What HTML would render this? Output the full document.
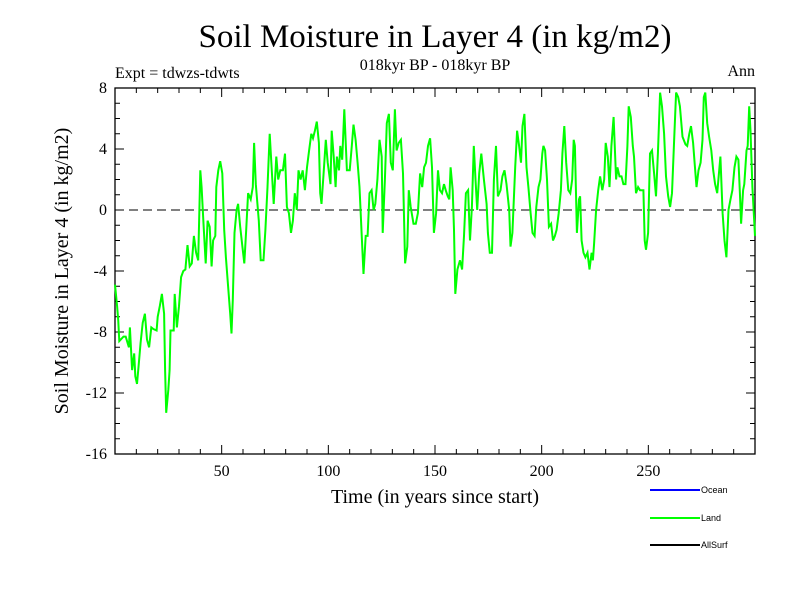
<!DOCTYPE html>
<html><head><meta charset="utf-8"><style>
body{margin:0;background:#fff;}
svg{display:block;font-family:"Liberation Serif",serif;}
</style></head><body>
<svg id="chart" width="800" height="600">
<text x="435" y="47" font-size="33" text-anchor="middle">Soil Moisture in Layer 4 (in kg/m2)</text>
<text x="435" y="70" font-size="16" text-anchor="middle">018kyr BP - 018kyr BP</text>
<text x="115" y="78" font-size="16">Expt = tdwzs-tdwts</text>
<text x="755" y="76" font-size="16" text-anchor="end">Ann</text>
<text transform="translate(68,271) rotate(-90)" font-size="20" text-anchor="middle">Soil Moisture in Layer 4 (in kg/m2)</text>
<text x="435" y="503" font-size="20" text-anchor="middle">Time (in years since start)</text>
<g id="axes"></g>
<g id="series"></g>
<g font-family="Liberation Sans, sans-serif" font-size="9">
<line x1="650" y1="490" x2="700" y2="490" stroke="#0000ff" stroke-width="2"/>
<text x="701" y="493">Ocean</text>
<line x1="650" y1="518" x2="700" y2="518" stroke="#00ff00" stroke-width="2"/>
<text x="701" y="521">Land</text>
<line x1="650" y1="545" x2="700" y2="545" stroke="#000" stroke-width="2"/>
<text x="701" y="548">AllSurf</text>
</g>
</svg>
<script>
const years=[0,1,1.5,2,4,5,6.5,7,8,9,9.5,10.3,11,12,13,14,15,16,17,18,19.5,20,21,22,23,23.5,24,25,25.6,26,27.5,28,29,30,31,32,33,34,35,36,37,38,39,40,40.6,41.5,42.5,43.4,44.4,45.3,46,47,47.5,48.4,49.3,50.3,51.2,52,53,54,54.6,55.2,56,57,57.7,58.7,59.7,60.6,61.5,62.4,63.6,64.6,65.2,66,67.4,68.3,69.6,70.5,71.5,72.5,73.4,74.4,75.6,76.5,77.5,78.7,79.7,80.6,81.5,82.5,83.4,84.3,85.2,86,87,88,89,90,91,92,92.8,93.7,94.6,95.6,96.2,96.8,97.8,98.8,99.7,
101,101.6,102.5,103.4,104,105,105.6,106.5,107.5,108.7,110,111,111.8,112.8,113.7,114.6,115.6,116.5,117.5,118.4,119.3,120.3,121.2,122,123,124,125,125.5,126.5,127.4,128.4,129.3,130.2,131.2,132,133,134,135,135.5,136,137,137.7,138.6,139.9,141,142,143,144,144.9,145.8,146.7,147.7,148.6,149.5,150.5,151.4,152.3,153.3,154.2,155,156,156.7,157.3,158.3,158.9,159.5,160.5,161.7,162.7,163.6,164.5,165.5,166.4,167.3,168.2,169,169.8,170.7,171.7,172.9,174.2,174.8,175.7,176.7,177.6,178.6,179.5,180.7,181.6,182.6,183.5,184.8,185.4,186.3,187.6,188.5,189.4,190.3,191,191.9,192.9,193.8,194.8,195.7,196.7,197.5,198.5,199.4,200.3,200.8,201.6,202.5,203.4,204.4,205.3,206.2,207,208,209,209.7,210.6,211.5,212.5,213.4,214.3,215,215.6,216.5,217.5,218,218.7,219.6,220.5,221.5,222.4,223.4,224,224.6,225.5,226.5,227.4,228.4,229.3,230,231,231.8,232.7,233.7,234.9,235.5,236.5,237.4,238.3,239.3,240.2,240.8,241.8,242.7,243.3,244.2,245.2,246.1,247,247.7,248.3,248.9,249.9,250.8,251.7,252.7,253.6,254.5,255.5,256.4,257.4,258.3,259.3,260.2,261.1,262,263,264,264.8,266,267.4,268.2,269.2,270,271,271.7,272.6,273.5,274.5,275.4,276,276.7,277.6,278.5,279.5,280.4,281.3,282.3,283.2,283.8,284.8,285.7,286.6,287.6,288.5,289.4,290.4,291.3,292.2,292.9,293.5,294.4,295,296,296.6,297.3,297.9,298.8,300];
const landValues=[-4.9,-6.3,-7.2,-8.6,-8.3,-8.3,-9,-7.7,-10.5,-9.4,-10.9,-11.4,-10.3,-8.7,-7.4,-6.8,-8.5,-9,-7.7,-7.8,-7.9,-7,-6.3,-5.5,-6.8,-10.5,-13.3,-11.8,-10.5,-7.9,-7.9,-5.5,-7.7,-6.3,-4.4,-4,-3.9,-2.3,-3.7,-3.5,-1.7,-2.8,-3.3,2.6,1.5,-0.9,-3.5,-0.7,-1.1,-3.7,-2,-1.7,1.5,2.6,3.2,2.4,-1.3,-3.1,-5,-6.8,-8.1,-5.9,-1.5,0,0.4,-1.1,-2.4,-3.5,-1.3,1.1,0.7,1.5,4.4,1.7,-0.7,-3.3,-3.3,-1.3,1.5,5,2.8,0.4,3.5,2,2.6,2.6,3.7,0.2,-0.2,-1.5,-0.7,1.1,0,2.6,2,2.6,1.3,2.8,3.9,5,4.7,5.2,5.8,4.4,1.1,0.4,2.4,4.6,3.1,1.7,
5.2,3.5,1.5,3.5,2.6,4.2,3.3,6.6,2.6,2.6,4.2,5.6,4.6,3.1,1.5,-1.5,-4.2,-1.7,-1.7,1.1,1.3,0,0.4,2,4.6,3.5,-1.5,2,5.7,6.3,3.1,2.6,6.6,3.9,4.4,4.6,2.4,-0.7,-3.5,-2.4,1.3,0.2,-0.9,-0.9,-0.2,2.4,1.5,2.8,3.1,4.2,4.7,2.8,-1.5,-0.2,2.6,1.3,1.1,1.7,1.3,0.9,0.7,2.8,1.3,-1.3,-5.5,-3.9,-3.3,-3.9,-1.7,1.1,1.3,-2,0.2,4.2,2,0,2.4,3.7,2,0.4,-1.5,-2.8,-2.8,2,4.2,0.9,1.3,2.2,2.6,1.7,0,-2.4,-1.5,2.8,5.2,4.2,3.1,5.5,6.3,2.8,1.5,-0.2,-1.5,-1.7,0.2,1.5,2,3.7,4.2,3.9,2,-1.1,-0.9,-2,-1.7,-1.3,-0.2,1.3,3.7,5.5,3.1,1.3,1.1,2,4.6,4.2,-1.5,0.7,0.9,-2,-2.8,-3.1,-2.8,-3.9,-2.8,-3.3,-2.2,0,1.3,2.2,1.3,2,4.4,3.5,1.5,4.2,6.1,2,2.8,2.2,2.2,1.7,1.7,4.2,6.8,6.1,4.2,3.5,1.1,1.5,1.3,1.3,1.3,-2,-2.6,-1.5,3.7,3.9,2.4,0.9,3.7,7.7,6.8,5,2.2,0.9,0.2,1.1,4.2,7.7,7.4,6.8,4.8,4.3,4.2,5,5.5,4.4,3.1,1.5,2.6,3.1,4.6,7.4,7.7,5.7,4.8,3.9,2.6,1.7,1.1,2.6,3.5,-0.2,-2,-3.1,0,0.7,1.3,2.8,3.5,3.3,1.1,-0.9,1.3,1.7,3.9,4.2,6.8,5.2,1.5,-1.7,-1.5];
const xTicks=[50,100,150,200,250];
const yTicks=[8,4,0,-4,-8,-12,-16];
const X0=115,X1=755,Y0=88,Y1=454;
function xs(v){return X0+(v-0)/(300-0)*(X1-X0);}
function ys(v){return Y1-(v-(-16))/(8-(-16))*(Y1-Y0);}
const NS="http://www.w3.org/2000/svg";
function mk(t,a,p){const e=document.createElementNS(NS,t);for(const k in a)e.setAttribute(k,a[k]);p.appendChild(e);return e;}
const ax=document.getElementById('axes');
const fr=mk('rect',{x:X0,y:Y0,width:X1-X0,height:Y1-Y0,fill:'none',stroke:'#000','stroke-width':1.3},ax);


const zl=mk('line',{x1:X0,x2:X1,y1:ys(0),y2:ys(0),stroke:'#000','stroke-dasharray':'9,5','stroke-width':1},ax);


for(let v=10;v<300;v+=10){const maj=v%50===0,L=maj?9:5,x=xs(v);
mk('line',{x1:x,x2:x,y1:Y1,y2:Y1-L,stroke:'#000'},ax);mk('line',{x1:x,x2:x,y1:Y0,y2:Y0+L,stroke:'#000'},ax);}
for(let v=-15;v<8;v++){const maj=v%4===0,L=maj?9:5,y=ys(v);
mk('line',{x1:X0,x2:X0+L,y1:y,y2:y,stroke:'#000'},ax);mk('line',{x1:X1,x2:X1-L,y1:y,y2:y,stroke:'#000'},ax);}
xTicks.forEach(v=>{const t=mk('text',{x:xs(v),y:Y1+22,'font-size':16,'text-anchor':'middle'},ax);t.textContent=v;

});
yTicks.forEach(v=>{const t=mk('text',{x:X0-8,y:ys(v)+5,'font-size':16,'text-anchor':'end'},ax);t.textContent=v;

});
const d=years.map((yr,i)=>(i?'L':'M')+xs(yr).toFixed(1)+','+ys(landValues[i]).toFixed(1)).join('');
const p=mk('path',{d:d,fill:'none',stroke:'#00ff00','stroke-width':2,'stroke-linejoin':'miter'},document.getElementById('series'));


</script>
</body></html>
